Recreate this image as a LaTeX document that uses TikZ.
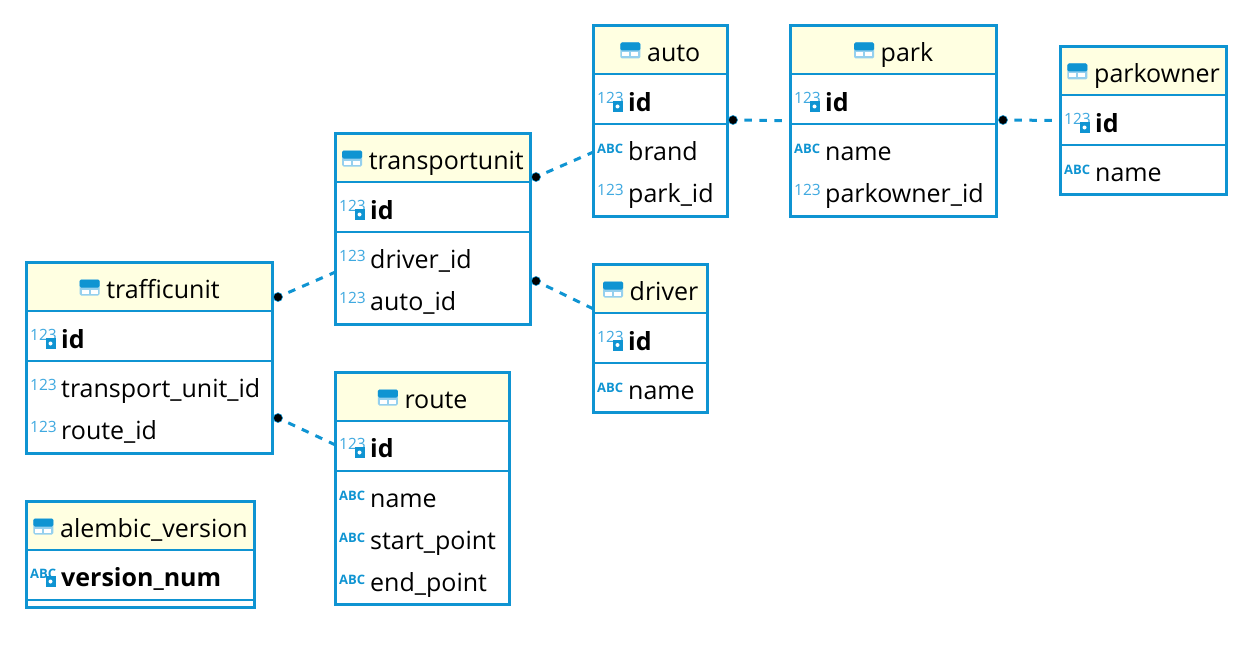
\documentclass[tikz,border=0pt]{standalone}
\usepackage{fontspec}
\setmainfont{Open Sans}
\usetikzlibrary{positioning}
\definecolor{dbblue}{HTML}{0F94D2}
\definecolor{iconblue}{HTML}{3FA9E0}
\definecolor{headfill}{HTML}{FFFFE1}
\tikzset{
    table-box/.style = {draw=dbblue, line width=3pt, fill=white, rectangle, anchor=north west, inner sep=0pt, outer sep=0pt},
    table-head/.style = {fill=headfill, rectangle, anchor=north west, inner sep=0pt, outer sep=0pt},
    table-rule/.style = {draw=dbblue, line width=2.5pt},
    table-title/.style = {anchor=base, inner sep=0pt, font=\fontsize{25}{28}\selectfont},
    row-text/.style = {anchor=base west, inner sep=0pt, font=\fontsize{25}{28}\selectfont},
    row-key/.style = {row-text, font=\fontsize{25}{28}\selectfont\bfseries},
    num-icon/.style = {anchor=base west, inner sep=0pt, text=iconblue, font=\fontsize{15.5}{16}\selectfont},
    abc-icon/.style = {anchor=base west, inner sep=0pt, text=dbblue, font=\fontsize{13}{16}\selectfont\bfseries},
    key-tag/.style = {fill=dbblue, rectangle, minimum width=10pt, minimum height=11pt, inner sep=0pt},
    fk-dot/.style = {circle, fill=black, draw=dbblue, line width=0.6pt, minimum size=9pt, inner sep=0pt},
    fk-line/.style = {draw=dbblue, line width=3pt, dash pattern=on 7.5pt off 7.5pt, dash phase=8.5pt},
    table-icon/.pic = {
        \fill[iconblue!55, rounded corners=1.5pt] (-10,-8) rectangle (10,8);
        \fill[dbblue, rounded corners=1.5pt] (-10,-8) rectangle (10,0);
        \fill[white] (-8,2) rectangle (-1,6);
        \fill[white] (1,2) rectangle (8,6);
    },
}
% frame, yellow head and the first rule: name, x, y, width, height, title
\newcommand{\dbtable}[6]{
    \node[table-box, minimum width=#4pt, minimum height=#5pt] (#1) at (#2,#3) {};
    \node[table-head, minimum width=#4pt-3pt, minimum height=46pt] (#1-head) at ([shift={(1.5,1.5)}]#1.north west) {};
    \draw[table-rule] ([yshift=-48.5pt]#1.north west) -- ([yshift=-48.5pt]#1.north east);
    \node[table-title] (#1-title) at ([shift={(13.5,36)}]#1.north) {#6};
    \path ([xshift=-16.5pt,yshift=11pt]#1-title.base west) pic {table-icon};
}
% second rule, under the key column
\newcommand{\keyrule}[2][98.5]{
    \draw[table-rule] ([yshift=-#1pt]#2.north west) -- ([yshift=-#1pt]#2.north east);
}
% rows: table, row name, y, text
\newcommand{\numrow}[4]{
    \node[row-text] (#1-#2) at ([shift={(34.5,#3)}]#1.north west) {#4};
    \node[num-icon] (#1-#2-icon) at ([shift={(-31,-7)}]#1-#2.base west) {123};
}
\newcommand{\abcrow}[4]{
    \node[row-text] (#1-#2) at ([shift={(34.5,#3)}]#1.north west) {#4};
    \node[abc-icon] (#1-#2-icon) at ([shift={(-31,-7)}]#1-#2.base west) {ABC};
}
\newcommand{\keytag}[1]{
    \node[key-tag] (#1-tag) at ([shift={(-10.5,-5)}]#1.base west) {};
    \fill[white] (#1-tag.center) circle (2pt);
}
\newcommand{\keyrow}[4]{
    \node[row-key] (#1-#2) at ([shift={(34.5,#3)}]#1.north west) {#4};
    \node[num-icon] (#1-#2-icon) at ([shift={(-31,-8)}]#1-#2.base west) {123};
    \keytag{#1-#2}
}

\begin{document}
\begin{tikzpicture}[x=1pt, y=-1pt]
\useasboundingbox (0,0) rectangle (1246,650);

\dbtable{auto}{593.5}{25.5}{133.5}{190.5}{auto}
\keyrule{auto}
\keyrow{auto}{id}{86}{id}
\abcrow{auto}{brand}{134.5}{brand}
\numrow{auto}{parkid}{176.5}{park\_id}

\dbtable{park}{790.5}{25.5}{206}{190.5}{park}
\keyrule{park}
\keyrow{park}{id}{86}{id}
\abcrow{park}{name}{134.5}{name}
\numrow{park}{ownerid}{176.5}{parkowner\_id}

\dbtable{parkowner}{1060.5}{46.5}{166}{148}{parkowner}
\keyrule{parkowner}
\keyrow{parkowner}{id}{86}{id}
\abcrow{parkowner}{name}{134.5}{name}

\dbtable{transportunit}{335.5}{133.5}{194.5}{190.5}{transportunit}
\keyrule{transportunit}
\keyrow{transportunit}{id}{86}{id}
\numrow{transportunit}{driverid}{134.5}{driver\_id}
\numrow{transportunit}{autoid}{176.5}{auto\_id}

\dbtable{driver}{593.5}{264.5}{114}{148}{driver}
\keyrule{driver}
\keyrow{driver}{id}{85.5}{id}
\abcrow{driver}{name}{134.5}{name}

\dbtable{trafficunit}{26.5}{262.5}{246}{190.5}{trafficunit}
\keyrule{trafficunit}
\keyrow{trafficunit}{id}{86}{id}
\numrow{trafficunit}{transportid}{134.5}{transport\_unit\_id}
\numrow{trafficunit}{routeid}{176.5}{route\_id}

\dbtable{route}{335.5}{372.5}{174}{232}{route}
\keyrule{route}
\keyrow{route}{id}{85}{id}
\abcrow{route}{name}{134.5}{name}
\abcrow{route}{start}{176.5}{start\_point}
\abcrow{route}{end}{218.5}{end\_point}

\dbtable{alembic}{26.5}{501.5}{228}{106}{alembic\_version}
\keyrule{alembic}
\node[row-key] (alembic-num) at ([shift={(34.5,85)}]alembic.north west) {version\_num};
\node[abc-icon] (alembic-num-icon) at ([shift={(-31,-8)}]alembic-num.base west) {ABC};
\keytag{alembic-num}

% free ends on the table edges
\coordinate (auto-in) at (auto.west |- 0,152);
\coordinate (park-in) at (park.west);
\coordinate (owner-in) at (parkowner.west);
\coordinate (transport-in) at (transportunit.west |- 0,272);
\coordinate (driver-in) at (driver.west |- 0,309);
\coordinate (route-in) at (route.west |- 0,445);

\node[fk-dot] (transport-auto) at (536,177) {};
\node[fk-dot] (transport-driver) at (536,281) {};
\node[fk-dot] (auto-park) at (733,120) {};
\node[fk-dot] (park-owner) at (1003,120) {};
\node[fk-dot] (traffic-transport) at (278,297) {};
\node[fk-dot] (traffic-route) at (278,418) {};

\draw[fk-line] (transport-auto) -- (auto-in);
\draw[fk-line] (transport-driver) -- (driver-in);
\draw[fk-line] (auto-park) -- (park-in);
\draw[fk-line] (park-owner) -- (owner-in);
\draw[fk-line] (traffic-transport) -- (transport-in);
\draw[fk-line] (traffic-route) -- (route-in);
\end{tikzpicture}
\end{document}
